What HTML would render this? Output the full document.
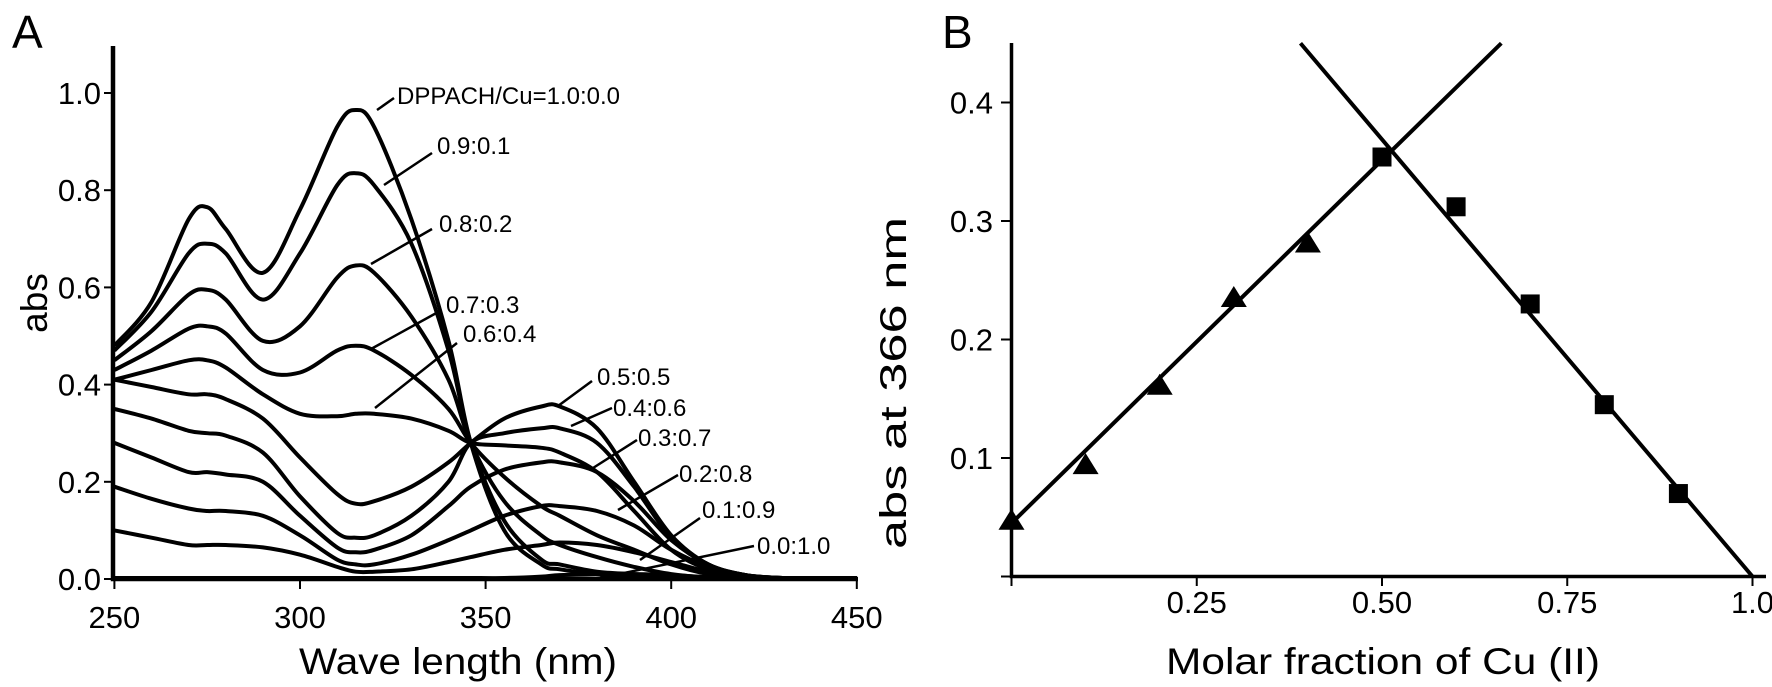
<!DOCTYPE html>
<html><head><meta charset="utf-8"><style>
html,body{margin:0;padding:0;background:#fff}
svg{display:block}
text{font-family:"Liberation Sans",Arial,sans-serif;fill:#000}
</style></head><body>
<svg id="fig" width="1772" height="687" viewBox="0 0 1772 687">
<rect width="1772" height="687" fill="#fff"/>
<g id="pa"></g>
<g id="pb"></g>
</svg>
<script>
// ---------- Panel A data ----------
const wl = [250,260,270,275,280,290,300,310,315,320,330,340,346,355,365,370,380,390,400,410,420,430,440,450];
const c10 = [.48,.57,.74,.765,.72,.63,.76,.93,.965,.93,.74,.49,.28,.10,.03,.02,.01,.005,0,0,0,0,0,0];
const c09 = [.47,.55,.67,.69,.67,.575,.67,.81,.835,.81,.69,.47,.28,.12,.04,.03,.015,.01,.005,0,0,0,0,0];
const c08 = [.45,.51,.585,.595,.575,.49,.52,.62,.645,.63,.54,.41,.28,.16,.09,.07,.045,.025,.01,.003,0,0,0,0];
const c07 = [.43,.47,.515,.52,.505,.43,.425,.47,.48,.47,.42,.35,.28,.21,.15,.13,.09,.06,.03,.01,0,0,0,0];
const c06 = [.41,.43,.45,.45,.435,.38,.34,.335,.34,.34,.33,.305,.28,.275,.27,.26,.22,.14,.06,.02,.005,0,0,0];
const c05 = [.41,.395,.38,.38,.37,.33,.25,.175,.155,.16,.19,.24,.28,.33,.355,.355,.31,.20,.09,.03,.008,0,0,0];
const c04 = [.35,.33,.305,.30,.295,.26,.17,.095,.085,.09,.13,.20,.28,.30,.31,.31,.28,.19,.085,.03,.008,0,0,0];
const c03 = [.28,.25,.22,.22,.215,.20,.13,.065,.055,.06,.09,.15,.19,.225,.24,.24,.22,.16,.08,.03,.008,0,0,0];
const c02 = [.19,.165,.145,.14,.14,.13,.09,.04,.03,.03,.05,.08,.10,.13,.15,.15,.14,.11,.06,.025,.008,0,0,0];
const c01 = [.10,.085,.07,.07,.07,.065,.05,.025,.015,.015,.02,.035,.045,.06,.07,.075,.07,.055,.035,.015,.005,0,0,0];
const c00 = [0,0,0,0,0,0,0,0,0,0,0,0,0,.002,.005,.008,.01,.01,.008,.004,.002,0,0,0];
const seriesA = [c10,c09,c08,c07,c06,c05,c04,c03,c02,c01,c00];
const ratioLabels = ["DPPACH/Cu=1.0:0.0","0.9:0.1","0.8:0.2","0.7:0.3","0.6:0.4","0.5:0.5","0.4:0.6","0.3:0.7","0.2:0.8","0.1:0.9","0.0:1.0"];
const xTicksA = [250,300,350,400,450];
const yTicksA = [0.0,0.2,0.4,0.6,0.8,1.0];
const yTickLabelsA = ["0.0","0.2","0.4","0.6","0.8","1.0"];
// ---------- Panel B data ----------
const fracTri = [0,0.1,0.2,0.3,0.4];
const absTri = [0.047,0.094,0.161,0.235,0.281];
const fracSq = [0.5,0.6,0.7,0.8,0.9];
const absSq = [0.354,0.312,0.230,0.145,0.070];
const riseLine = [[0,0.045],[0.661,0.450]];
const fallLine = [[0.39,0.450],[1.0,0.0]];
const xTicksB = [0,0.25,0.5,0.75,1.0];
const xTickLabelsB = ["","0.25","0.50","0.75","1.0"];
const yTicksB = [0,0.1,0.2,0.3,0.4];
const yTickLabelsB = ["","0.1","0.2","0.3","0.4"];

const NS="http://www.w3.org/2000/svg";
function mk(parent,tag,attrs,txt){const e=document.createElementNS(NS,tag);for(const k in attrs)e.setAttribute(k,attrs[k]);if(txt!==undefined)e.textContent=txt;parent.appendChild(e);return e;}

const xA = nm => 114.4 + (nm-250)*3.712;
const yA = a => 579 - a*486;
const xB = f => 1011.5 + f*741;
const yB = v => 576.5 - v*1185;

// ---------- Panel A ----------
const pa=document.getElementById('pa');
let t=mk(pa,'text',{x:12,y:48,'font-size':46});t.textContent="A";


let ax=mk(pa,'path',{d:`M113 46 V579 H858`,stroke:'#000','stroke-width':4.5,fill:'none'});


yTicksA.forEach((v,i)=>{
  const y=yA(v);
  const tk=mk(pa,'line',{x1:104,x2:113,y1:y,y2:y,stroke:'#000','stroke-width':2});
  
  
  const lb=mk(pa,'text',{x:101,y:y+11,'font-size':31,'text-anchor':'end'},yTickLabelsA[i]);
  
  
});
xTicksA.forEach(v=>{
  const x=xA(v);
  const tk=mk(pa,'line',{x1:x,x2:x,y1:579,y2:589,stroke:'#000','stroke-width':2});
  
  
  const lb=mk(pa,'text',{x:x,y:628,'font-size':31,'text-anchor':'middle'},String(v));
  
  
});
t=mk(pa,'text',{x:458,y:674,'font-size':37,'text-anchor':'middle',textLength:318,lengthAdjust:'spacingAndGlyphs'},"Wave length (nm)");


t=mk(pa,'text',{x:0,y:0,'font-size':37,'text-anchor':'middle',transform:'translate(47,303) rotate(-90)'},"abs");



function smoothPath(pts){
  let d=`M${pts[0][0].toFixed(1)} ${pts[0][1].toFixed(1)}`;
  for(let i=0;i<pts.length-1;i++){
    const p0=pts[i-1]||pts[i],p1=pts[i],p2=pts[i+1],p3=pts[i+2]||p2;
    const c1=[p1[0]+(p2[0]-p0[0])/6,p1[1]+(p2[1]-p0[1])/6];
    const c2=[p2[0]-(p3[0]-p1[0])/6,p2[1]-(p3[1]-p1[1])/6];
    d+=` C${c1[0].toFixed(1)} ${c1[1].toFixed(1)} ${c2[0].toFixed(1)} ${c2[1].toFixed(1)} ${p2[0].toFixed(1)} ${p2[1].toFixed(1)}`;
  }
  return d;
}
seriesA.forEach((s,i)=>{
  const pts=wl.map((w,j)=>[xA(w),Math.min(yA(s[j]),578)]);
  const p=mk(pa,'path',{d:smoothPath(pts),stroke:'#000','stroke-width':4,fill:'none','stroke-linejoin':'round'});
  
  
});
const leaders=[[377,110,394,98,397,104],[384,185,432,153,437,154],[371,264,432,229,439,232],[371,349,440,311,446,313],[375,408,457,343,463,342],[558,406,592,381,597,385],[571,426,612,408,613,416],[593,468,637,440,638,446],[618,510,678,475,679,482],[640,560,700,518,702,518],[600,578,754,546,757,554]];
leaders.forEach((l,i)=>{
  const ln=mk(pa,'line',{x1:l[0],y1:l[1],x2:l[2],y2:l[3],stroke:'#000','stroke-width':2.5});
  
  
  const tx=mk(pa,'text',{x:l[4],y:l[5],'font-size':24},ratioLabels[i]);
  
  
});

// ---------- Panel B ----------
const pb=document.getElementById('pb');
t=mk(pb,'text',{x:942,y:48,'font-size':46},"B");


ax=mk(pb,'path',{d:`M1011.5 43 V576.5 H1766`,stroke:'#000','stroke-width':3.5,fill:'none'});


yTicksB.forEach((v,i)=>{
  const y=yB(v);
  const tk=mk(pb,'line',{x1:1001,x2:1011,y1:y,y2:y,stroke:'#000','stroke-width':2});
  
  
  const lb=mk(pb,'text',{x:993,y:y+11,'font-size':31,'text-anchor':'end'},yTickLabelsB[i]);
  
  
});
xTicksB.forEach((v,i)=>{
  const x=xB(v);
  const tk=mk(pb,'line',{x1:x,x2:x,y1:576,y2:586,stroke:'#000','stroke-width':2});
  
  
  const lb=mk(pb,'text',{x:x,y:613,'font-size':31,'text-anchor':'middle'},xTickLabelsB[i]);
  
  
});
t=mk(pb,'text',{x:1383,y:674,'font-size':37,'text-anchor':'middle',textLength:434,lengthAdjust:'spacingAndGlyphs'},"Molar fraction of Cu (II)");


t=mk(pb,'text',{x:0,y:0,'font-size':37,'text-anchor':'middle',textLength:332,lengthAdjust:'spacingAndGlyphs',transform:'translate(906,383) rotate(-90)'},"abs at 366 nm");


[riseLine,fallLine].forEach((L,i)=>{
  const ln=mk(pb,'line',{x1:xB(L[0][0]),y1:yB(L[0][1]),x2:xB(L[1][0]),y2:yB(L[1][1]),stroke:'#000','stroke-width':4});
  
  
});
fracTri.forEach((f,i)=>{
  const x=xB(f),y=yB(absTri[i]);
  const m=mk(pb,'path',{d:`M${x} ${y-12} L${x+13} ${y+9} L${x-13} ${y+9} Z`,fill:'#000'});
  
  
});
fracSq.forEach((f,i)=>{
  const x=xB(f),y=yB(absSq[i]);
  const m=mk(pb,'rect',{x:x-9.5,y:y-9.5,width:19,height:19,fill:'#000'});
  
  
});
</script>
</body></html>
